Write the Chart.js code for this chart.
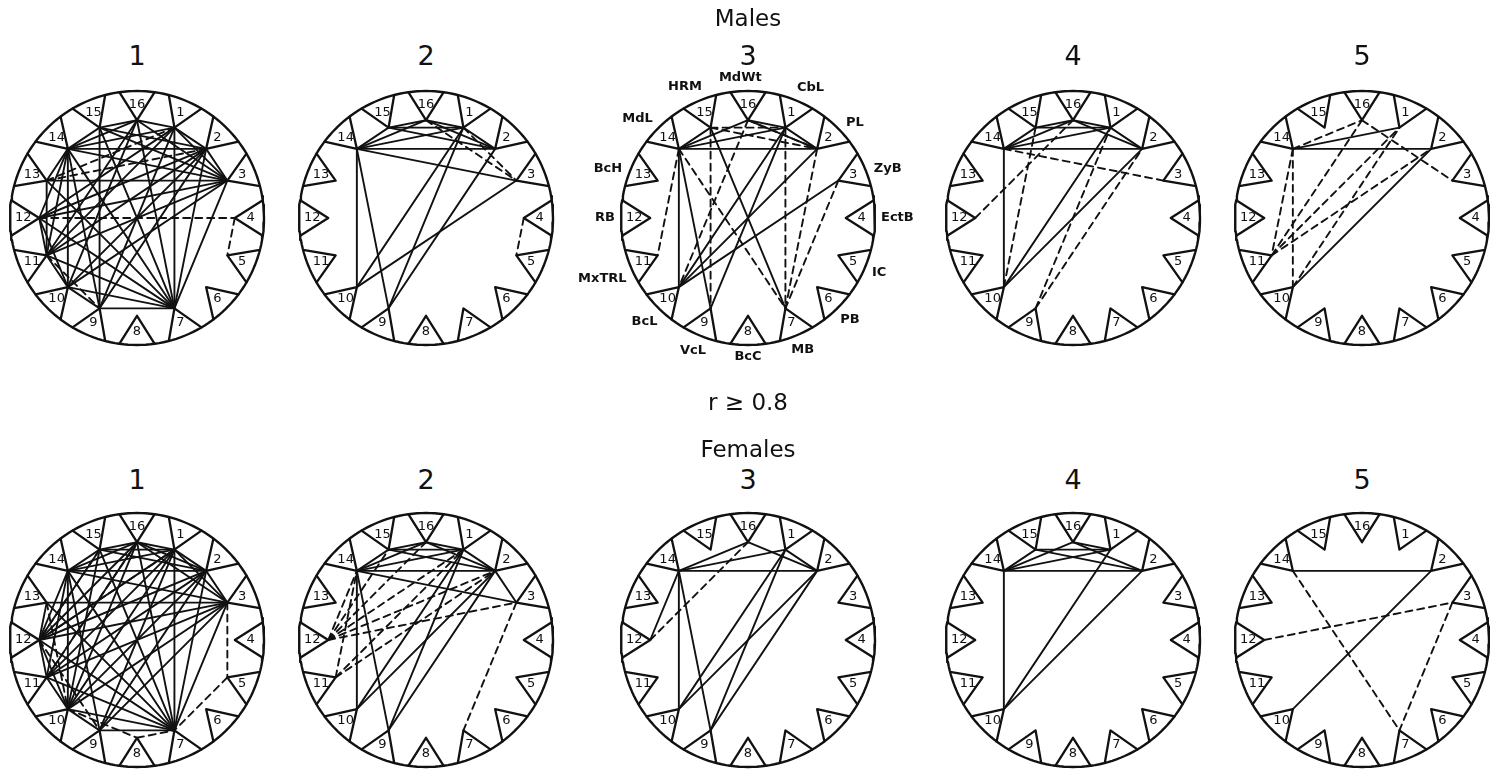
<!DOCTYPE html>
<html>
<head>
<meta charset="utf-8">
<script src="https://cdn.jsdelivr.net/npm/chart.js@4.4.1/dist/chart.umd.min.js"></script>
<style>
  html, body { margin: 0; padding: 0; background: #fff; }
  #wrap { position: relative; width: 1490px; height: 769px; overflow: hidden; background: #fff; }
  #wrap canvas { position: absolute; }
  .txt { position: absolute; transform: translate(-50%, -50%); font-family: "DejaVu Sans", sans-serif;
         color: #111; white-space: nowrap; line-height: 1; }
  .head { font-size: 23px; }
  .num { font-size: 27px; }
</style>
</head>
<body>
<div id="wrap"></div>
<script>
// Node numbers around each circle and the measurement names they stand for
const nodeNumbers = ['1','2','3','4','5','6','7','8','9','10','11','12','13','14','15','16'];
const measureNames = ['CbL','PL','ZyB','EctB','IC','PB','MB','BcC','VcL','BcL','MxTRL','RB','BcH','MdL','HRM','MdWt'];
const panelNumbers = ['1','2','3','4','5'];
const groupNames = ['Males', 'Females'];
const thresholdText = 'r \u2265 0.8';

// Correlation links (pairs of node numbers); solid and dashed lines
const m1Solid = [[14,15],[15,16],[16,1],[1,2],[2,3],[14,16],[14,1],[14,2],[14,3],[15,2],[16,3],[1,3],[15,3],
  [14,12],[14,11],[14,10],[14,9],[14,7],[13,3],[13,7],[12,3],[12,2],[12,1],[12,7],[12,11],[12,10],[11,10],
  [11,3],[11,2],[11,1],[11,7],[11,16],[10,3],[10,2],[10,7],[10,16],[9,7],[9,2],[9,1],[9,15],[7,1],[7,2],
  [7,3],[7,16],[7,15],[10,9],[13,14],[13,11]];
const m1Dashed = [[12,4],[4,5],[13,1],[13,2],[11,9]];

const m2Solid = [[14,15],[14,16],[14,1],[14,2],[14,3],[15,16],[16,1],[15,1],[16,2],[1,2],[15,2],
  [14,10],[14,9],[10,1],[10,3],[9,1],[9,2]];
const m2Dashed = [[1,3],[16,3],[4,5]];

const m3Solid = [[14,15],[14,16],[14,1],[14,2],[16,1],[16,2],[1,2],[14,10],[14,9],[1,10],[2,10],[3,10],[1,9],[15,7]];
const m3Dashed = [[15,9],[1,7],[14,7],[16,10],[2,7],[3,7],[14,11],[15,1],[16,2],[15,2]];

const m4Solid = [[14,2],[14,16],[14,1],[14,15],[15,16],[16,1],[16,2],[15,1],[1,2],[14,10],[10,1],[10,2]];
const m4Dashed = [[14,3],[12,16],[10,15],[9,1],[9,2]];

const m5Solid = [[14,2],[14,1],[10,2]];
const m5Dashed = [[14,16],[16,3],[14,11],[14,10],[11,16],[11,1],[11,2],[10,1]];

const f1Solid = [[14,15],[15,16],[16,1],[1,2],[2,3],[14,16],[14,1],[14,2],[14,3],[15,1],[15,2],[16,2],[16,3],
  [1,3],[14,12],[14,11],[14,10],[14,9],[14,7],[12,11],[12,10],[11,10],[10,9],[9,7],[12,3],[12,2],[12,1],
  [12,16],[11,3],[11,2],[11,1],[10,3],[10,2],[10,1],[10,16],[9,3],[9,2],[9,1],[7,3],[7,2],[7,1],[7,16],
  [7,15],[7,12],[7,11],[7,10],[13,12],[13,3],[13,7],[11,16],[12,15],[10,15]];
const f1Dashed = [[3,5],[5,7],[13,10],[12,9],[15,12],[16,11],[1,12],[10,8],[8,7]];

const f2Solid = [[14,15],[14,16],[14,1],[14,2],[15,16],[16,1],[15,1],[16,2],[1,2],[15,2],[14,3],[2,3],
  [14,9],[14,10],[10,1],[10,2],[9,1],[9,2]];
const f2Dashed = [[12,14],[12,15],[12,16],[12,1],[12,2],[12,3],[11,14],[11,1],[11,2],[3,7]];

const f3Solid = [[14,16],[14,1],[14,2],[16,2],[1,2],[14,12],[14,10],[14,9],[10,1],[10,2],[9,1],[9,2]];
const f3Dashed = [[12,16]];

const f4Solid = [[14,2],[14,16],[14,1],[15,1],[15,2],[16,2],[14,15],[16,1],[14,10],[10,1],[10,2]];
const f4Dashed = [];

const f5Solid = [[14,2],[10,2]];
const f5Dashed = [[12,3],[3,7],[14,7]];

// Layout of the ten panels (pixel centres)
const R_PX = 127;
const colX = [137, 426, 748, 1073, 1362];
const rowY = [218, 640];
const panelLinks = [
  [[m1Solid, m1Dashed], [m2Solid, m2Dashed], [m3Solid, m3Dashed], [m4Solid, m4Dashed], [m5Solid, m5Dashed]],
  [[f1Solid, f1Dashed], [f2Solid, f2Dashed], [f3Solid, f3Dashed], [f4Solid, f4Dashed], [f5Solid, f5Dashed]]
];

// Geometry of the node wedges (in units of the circle radius)
const APEX_R = 0.77;
const HALF_BASE = 8 * Math.PI / 180;
const NUM_R = 0.895;

const nodeAngle = k => k * 2 * Math.PI / nodeNumbers.length;
const polar = (r, a) => ({ x: r * Math.sin(a), y: r * Math.cos(a) });
const apexOf = k => polar(APEX_R, nodeAngle(k));

const wrap = document.getElementById('wrap');

function addText(str, x, y, cls) {
  const d = document.createElement('div');
  d.className = 'txt ' + cls;
  d.textContent = str;
  d.style.left = x + 'px';
  d.style.top = y + 'px';
  wrap.appendChild(d);
}

// Numbers inside the wedges, plus the measurement names on the labelled panel
const wedgeLabels = {
  id: 'wedgeLabels',
  afterDatasetsDraw(chart, args, opts) {
    const { ctx, scales } = chart;
    const sx = scales.x, sy = scales.y;
    ctx.save();
    ctx.fillStyle = '#111';
    ctx.textAlign = 'center';
    ctx.textBaseline = 'middle';
    ctx.font = '13px "DejaVu Sans"';
    nodeNumbers.forEach((lab, i) => {
      const p = polar(NUM_R, nodeAngle(i + 1));
      ctx.fillText(lab, sx.getPixelForValue(p.x), sy.getPixelForValue(p.y));
    });
    if (opts.names) {
      ctx.font = 'bold 13px "DejaVu Sans"';
      measureNames.forEach((lab, i) => {
        let a = nodeAngle(i + 1);
        // names on the upper half fan out a little away from the top
        if (Math.cos(a) > 0.3) a += 0.055 * Math.sign(Math.sin(a));
        const w = ctx.measureText(lab).width;
        const base = polar(1, a);
        const cx = sx.getPixelForValue(base.x), cy = sy.getPixelForValue(base.y);
        const s = Math.sin(a), c = Math.cos(a);
        const off = 6 + Math.abs(s) * w / 2 + Math.abs(c) * 6;
        ctx.fillText(lab, cx + s * off, cy - c * off);
      });
    }
    ctx.restore();
  }
};

function makePanel(row, col) {
  const cx = colX[col], cy = rowY[row];
  const labelled = row === 0 && col === 2;
  const half = labelled ? 200 : 136;
  const span = half / R_PX;
  const cv = document.createElement('canvas');
  cv.width = half * 2; cv.height = half * 2;
  cv.style.left = (cx - half) + 'px';
  cv.style.top = (cy - half) + 'px';
  wrap.appendChild(cv);

  const datasets = [];
  const line = (pts, dash, width) => datasets.push({
    data: pts, showLine: true, borderColor: '#111', borderWidth: width,
    borderDash: dash, pointRadius: 0, fill: false, tension: 0, clip: false,
    borderCapStyle: 'round', borderJoinStyle: 'round'
  });

  // outer circle
  const ring = [];
  for (let d = 0; d <= 360; d += 2) ring.push(polar(1, d * Math.PI / 180));
  line(ring, [], 2.4);

  // one wedge per node
  for (let k = 1; k <= nodeNumbers.length; k++) {
    const a = nodeAngle(k);
    line([polar(1, a - HALF_BASE), apexOf(k), polar(1, a + HALF_BASE)], [], 2.3);
  }

  const [solid, dashed] = panelLinks[row][col];
  solid.forEach(([a, b]) => line([apexOf(a), apexOf(b)], [], 1.9));
  dashed.forEach(([a, b]) => line([apexOf(a), apexOf(b)], [7, 5], 1.9));

  new Chart(cv, {
    type: 'scatter',
    data: { datasets },
    options: {
      responsive: false,
      animation: false,
      events: [],
      layout: { padding: 0 },
      scales: {
        x: { type: 'linear', min: -span, max: span, display: false },
        y: { type: 'linear', min: -span, max: span, display: false }
      },
      plugins: { legend: { display: false }, tooltip: { enabled: false }, wedgeLabels: { names: labelled } }
    },
    plugins: [wedgeLabels]
  });

  addText(panelNumbers[col], cx, row === 0 ? 55 : 479, 'num');
}

for (let r = 0; r < 2; r++) for (let c = 0; c < 5; c++) makePanel(r, c);

addText(groupNames[0], 748, 18, 'head');
addText(thresholdText, 748, 402, 'head');
addText(groupNames[1], 748, 449, 'head');
</script>
</body>
</html>
